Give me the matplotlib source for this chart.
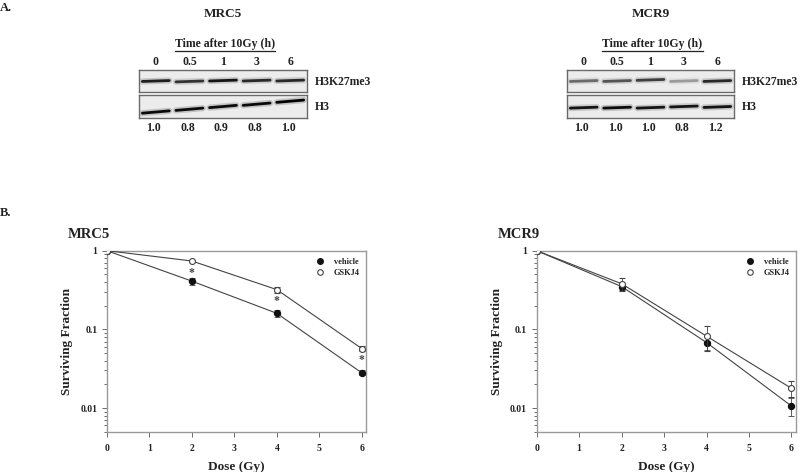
import numpy as np
import matplotlib
matplotlib.use("Agg")
from matplotlib import pyplot as plt
from matplotlib.lines import Line2D
from matplotlib.ticker import NullFormatter

""" Two panel figure: A. western blots, B. clonogenic survival """

W, H = 800, 472
plt.rcParams['font.family'] = ['Liberation Serif', 'DejaVu Serif']
plt.rcParams['font.weight'] = 'bold'
plt.rcParams['axes.labelweight'] = 'bold'
txt_c = "#222222"

# ---- blot data ----
lanes = ["0", "0.5", "1", "3", "6"]
mrc5_quant = ["1.0", "0.8", "0.9", "0.8", "1.0"]
mcr9_quant = ["1.0", "1.0", "1.0", "0.8", "1.2"]
# band darkness per lane (0..1)
mrc5_k27_int = [0.85, 0.75, 0.9, 0.8, 0.8]
mrc5_h3_int = [0.95, 0.95, 0.95, 0.95, 1.0]
mcr9_k27_int = [0.5, 0.6, 0.7, 0.3, 0.8]
mcr9_h3_int = [0.9, 0.95, 0.9, 0.9, 0.9]
# band height inside its strip (0 = top, 1 = bottom)
mrc5_k27_pos = [0.5, 0.52, 0.48, 0.48, 0.48]
mrc5_h3_pos = [0.74, 0.62, 0.5, 0.4, 0.27]
mcr9_k27_pos = [0.5, 0.5, 0.45, 0.5, 0.5]
mcr9_h3_pos = [0.55, 0.55, 0.55, 0.5, 0.52]

# ---- survival data ----
dose = [0, 2, 4, 6]
mrc5_veh = [1.0, 0.41, 0.16, 0.028]
mrc5_veh_err = [0, 0.045, 0.016, 0.002]
mrc5_gsk = [1.0, 0.74, 0.32, 0.057]
mrc5_gsk_err = [0, 0.02, 0.028, 0.004]
mcr9_veh = [1.0, 0.35, 0.068, 0.0106]
mcr9_veh_err = [0, 0.035, 0.014, 0.0027]
mcr9_gsk = [1.0, 0.38, 0.082, 0.0178]
mcr9_gsk_err = [0, 0.07, 0.029, 0.004]
mrc5_sig = [2, 4, 6]


fig = plt.figure(figsize=(W/100, H/100), dpi=100)

# overlay in pixel coordinates for the loose text
ov = fig.add_axes([0, 0, 1, 1])
ov.set_xlim(0, W)
ov.set_ylim(H, 0)
ov.axis("off")


def txt(x, y, s, size, ha="center", va="center"):
    return ov.text(x, y, s, fontsize=size, ha=ha, va=va, color=txt_c, fontweight="bold")


def strip(x0, x1, y0, y1, intens, pos, tilt):
    ax = fig.add_axes([x0/W, 1-y1/H, (x1-x0)/W, (y1-y0)/H])
    ax.set_xlim(-0.5, len(intens)-0.5)
    ax.set_ylim(1, 0)
    ax.set_facecolor("#ececec")
    for s in ax.spines.values():
        s.set_color("#6a6a6a")
        s.set_linewidth(1.0)
    ax.set_xticks([])
    ax.set_yticks([])
    for i, (c, p) in enumerate(zip(intens, pos)):
        xs = [i-0.4, i+0.4]
        ys = [p+tilt, p-tilt]
        ax.plot(xs, ys, color="k", lw=4.5, alpha=0.18*c, solid_capstyle="round")
        ax.plot(xs, ys, color="k", lw=2.0, alpha=c, solid_capstyle="round")
    return ax


def blot_panel(x0, x1, name, k27_int, k27_pos, h3_int, h3_pos, quant, tilt_h3):
    n = len(lanes)
    step = (x1-x0)/n
    cx = [x0 + step*(i+0.5) for i in range(n)]
    mid = (x0+x1)/2
    txt(mid, 14, name, 9.5)
    t = txt(mid+2, 44, "Time after 10Gy (h)", 8.5)
    for c, l in zip(cx, lanes):
        txt(c, 62, l, 8.5)
    strip(x0, x1, 70, 92, k27_int, k27_pos, 0.02)
    strip(x0, x1, 95, 118, h3_int, h3_pos, tilt_h3)
    txt(x1+8, 82, "H3K27me3", 8.5, ha="left")
    txt(x1+8, 107, "H3", 8.5, ha="left")
    for c, q in zip(cx, quant):
        txt(c-2, 128, q, 8.5)
    return t


t1 = blot_panel(139, 307, "MRC5", mrc5_k27_int, mrc5_k27_pos, mrc5_h3_int, mrc5_h3_pos, mrc5_quant, 0.05)
t2 = blot_panel(567, 734, "MCR9", mcr9_k27_int, mcr9_k27_pos, mcr9_h3_int, mcr9_h3_pos, mcr9_quant, 0.02)

txt(0, 8, "A.", 9, ha="left")
txt(0, 213, "B.", 9, ha="left")

# underline the time headers
fig.canvas.draw()
rend = fig.canvas.get_renderer()
inv = ov.transData.inverted()
for t in (t1, t2):
    bb = t.get_window_extent(rend)
    (xa, ya), (xb, yb) = inv.transform([[bb.x0, bb.y0], [bb.x1, bb.y1]])
    ov.plot([xa, xb], [ya+0.5, ya+0.5], color=txt_c, lw=0.9)


def survival(left, title, veh, veh_err, gsk, gsk_err, sig):
    ax = fig.add_axes([left/W, 1-431.7/H, 259/W, 181/H])
    line_c = "#444444"
    ax.errorbar(dose, veh, yerr=veh_err, color=line_c, lw=0.8, marker="o", ms=4.3,
                mfc="#111111", mec="#111111", capsize=2, elinewidth=0.6, capthick=0.6, zorder=3)
    ax.errorbar(dose, gsk, yerr=gsk_err, color=line_c, lw=0.8, marker="o", ms=4.3,
                mfc="white", mec="#444444", mew=0.8, capsize=2, elinewidth=0.6, capthick=0.6, zorder=4)
    for d in sig:
        ax.annotate("*", (d, gsk[dose.index(d)]), xytext=(0, -8.5), textcoords="offset points",
                    ha="center", va="center", fontsize=8.5, color="#444444")
    ax.set_yscale("log")
    ax.set_ylim(0.005, 1.0)
    ax.set_xlim(0, 6.1)
    ax.set_xticks(range(0, 7))
    ax.set_yticks([0.01, 0.1, 1])
    ax.set_yticklabels(["0.01", "0.1", "1"])
    ax.yaxis.set_minor_formatter(NullFormatter())
    ax.tick_params(which="both", direction="out", colors="#555555", labelcolor=txt_c,
                   labelsize=7, width=0.6)
    ax.tick_params(which="major", length=3.5)
    ax.tick_params(which="minor", length=2)
    ax.tick_params(axis="x", pad=5)
    for s in ax.spines.values():
        s.set_color("#9a9a9a")
        s.set_linewidth(1.0)
    ax.set_ylabel("Surviving Fraction", fontsize=9.5, labelpad=5, color=txt_c)
    ax.set_xlabel("Dose (Gy)", fontsize=9.5, labelpad=6, color=txt_c)
    handles = [Line2D([], [], ls="none", marker="o", ms=4, mfc="#111111", mec="#111111"),
               Line2D([], [], ls="none", marker="o", ms=4, mfc="white", mec="#444444", mew=0.8)]
    leg = ax.legend(handles, ["vehicle", "GSKJ4"], loc="upper right", bbox_to_anchor=(0.99, 0.98),
                    frameon=False, fontsize=6, handlelength=1, handletextpad=1.2,
                    labelspacing=0.45, borderaxespad=0)
    for tx in leg.get_texts():
        tx.set_color(txt_c)
    txt(left-39, 235, title, 10.5, ha="left")
    return ax


survival(107, "MRC5", mrc5_veh, mrc5_veh_err, mrc5_gsk, mrc5_gsk_err, mrc5_sig)
survival(536.7, "MCR9", mcr9_veh, mcr9_veh_err, mcr9_gsk, mcr9_gsk_err, [])

fig.savefig("out.png", dpi=100)
